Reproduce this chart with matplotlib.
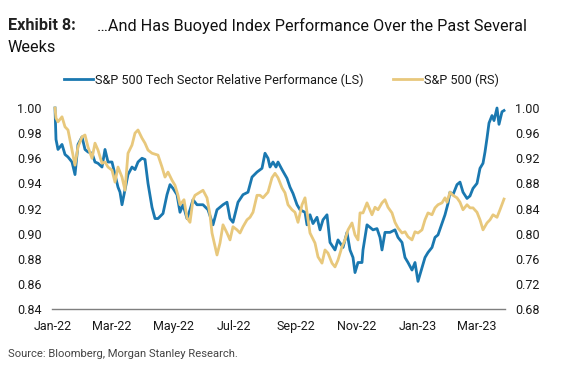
import matplotlib
matplotlib.use("Agg")
import matplotlib.pyplot as plt
import matplotlib.dates as mdates
from matplotlib.lines import Line2D
import pandas as pd

plt.rcParams['font.family'] = ['Roboto', 'DejaVu Sans']

base_date = "2022-01-01"

tech_days = [2, 3, 5, 9, 12, 15, 19, 22, 25, 29,
             32, 35, 39, 42, 45, 49, 52, 55, 59, 62,
             65, 67, 69, 72, 75, 79, 82, 85, 89, 92,
             95, 99, 102, 105, 110, 114, 117, 120, 124, 127,
             130, 134, 137, 140, 144, 150, 155, 160, 164, 170,
             174, 177, 180, 185, 190, 195, 199, 204, 209, 212,
             215, 217, 220, 223, 225, 229, 234, 237, 240, 244,
             247, 252, 254, 257, 260, 264, 267, 270, 274, 277,
             282, 285, 290, 294, 297, 300, 302, 305, 309, 310,
             314, 317, 320, 324, 327, 329, 332, 337, 342, 345,
             349, 352, 355, 359, 362, 365, 369, 372, 375, 379,
             382, 385, 389, 392, 395, 397, 400, 404, 407, 410,
             414, 417, 420, 424, 427, 430, 432, 434, 436, 439,
             441, 444, 446, 449, 451]
tech_rel = [1.000, 0.975, 0.967, 0.971, 0.963, 0.961, 0.957, 0.947, 0.971, 0.977,
            0.967, 0.965, 0.964, 0.957, 0.956, 0.953, 0.967, 0.957, 0.957, 0.947,
            0.937, 0.933, 0.923, 0.935, 0.947, 0.953, 0.951, 0.957, 0.960, 0.959,
            0.940, 0.921, 0.912, 0.912, 0.916, 0.931, 0.939, 0.936, 0.931, 0.917,
            0.923, 0.912, 0.919, 0.927, 0.923, 0.923, 0.919, 0.907, 0.919, 0.923,
            0.925, 0.912, 0.909, 0.925, 0.931, 0.933, 0.945, 0.949, 0.952, 0.964,
            0.960, 0.953, 0.957, 0.953, 0.957, 0.951, 0.944, 0.937, 0.932, 0.923,
            0.919, 0.917, 0.907, 0.915, 0.908, 0.913, 0.903, 0.911, 0.915, 0.893,
            0.887, 0.895, 0.889, 0.901, 0.887, 0.881, 0.869, 0.877, 0.877, 0.887,
            0.907, 0.905, 0.903, 0.904, 0.897, 0.887, 0.901, 0.901, 0.903, 0.897,
            0.893, 0.881, 0.877, 0.871, 0.877, 0.862, 0.873, 0.881, 0.885, 0.889,
            0.897, 0.899, 0.908, 0.915, 0.924, 0.933, 0.931, 0.939, 0.941, 0.933,
            0.928, 0.930, 0.936, 0.940, 0.952, 0.956, 0.965, 0.976, 0.988, 0.994,
            0.990, 1.000, 0.987, 0.997, 0.998]

spx_days = [2, 3, 5, 9, 12, 15, 19, 22, 25, 29,
            32, 35, 39, 42, 45, 49, 52, 55, 59, 62,
            65, 69, 72, 75, 79, 82, 85, 89, 92, 95,
            99, 105, 109, 112, 115, 119, 122, 125, 127, 131,
            134, 137, 140, 142, 147, 150, 154, 157, 159, 164,
            167, 170, 174, 177, 180, 184, 187, 190, 194, 197,
            200, 204, 207, 210, 215, 219, 222, 225, 229, 232,
            235, 239, 242, 245, 249, 252, 254, 257, 262, 265,
            269, 272, 275, 279, 282, 285, 289, 292, 295, 299,
            302, 305, 307, 310, 314, 319, 322, 325, 329, 332,
            335, 339, 342, 345, 349, 352, 355, 359, 362, 365,
            369, 372, 375, 379, 382, 385, 389, 392, 394, 397,
            400, 404, 407, 410, 414, 417, 420, 424, 427, 430,
            434, 437, 440, 444, 447, 451]
spx_rel = [1.000, 0.984, 0.978, 0.986, 0.970, 0.965, 0.933, 0.909, 0.938, 0.954,
           0.957, 0.938, 0.920, 0.944, 0.933, 0.912, 0.914, 0.906, 0.901, 0.882,
           0.906, 0.890, 0.869, 0.928, 0.941, 0.960, 0.965, 0.952, 0.944, 0.933,
           0.928, 0.925, 0.906, 0.890, 0.898, 0.885, 0.877, 0.861, 0.846, 0.854,
           0.825, 0.818, 0.854, 0.861, 0.866, 0.869, 0.857, 0.830, 0.801, 0.766,
           0.785, 0.814, 0.801, 0.790, 0.811, 0.806, 0.801, 0.811, 0.822, 0.826,
           0.834, 0.861, 0.861, 0.857, 0.866, 0.889, 0.896, 0.889, 0.873, 0.865,
           0.846, 0.838, 0.834, 0.818, 0.846, 0.857, 0.834, 0.801, 0.785, 0.763,
           0.753, 0.774, 0.769, 0.753, 0.747, 0.758, 0.779, 0.790, 0.806, 0.817,
           0.798, 0.790, 0.833, 0.833, 0.849, 0.830, 0.842, 0.838, 0.849, 0.854,
           0.842, 0.833, 0.818, 0.809, 0.801, 0.803, 0.795, 0.790, 0.803, 0.801,
           0.806, 0.822, 0.833, 0.830, 0.841, 0.846, 0.849, 0.857, 0.850, 0.866,
           0.861, 0.857, 0.850, 0.838, 0.846, 0.841, 0.841, 0.834, 0.822, 0.806,
           0.817, 0.822, 0.830, 0.826, 0.838, 0.855]

left_ticks = [0.84, 0.86, 0.88, 0.90, 0.92, 0.94, 0.96, 0.98, 1.00]
right_ticks = [0.68, 0.72, 0.76, 0.80, 0.84, 0.88, 0.92, 0.96, 1.00]
x_tick_dates = ["2022-01-01", "2022-03-01", "2022-05-01", "2022-07-01",
                "2022-09-01", "2022-11-01", "2023-01-01", "2023-03-01"]

label_tech = "S&P 500 Tech Sector Relative Performance (LS)"
label_spx = "S&P 500 (RS)"
title_bold = "Exhibit 8:"
title_rest = "\u2026And Has Buoyed Index Performance Over the Past Several"
title_line2 = "Weeks"
source_text = "Source: Bloomberg, Morgan Stanley Research."

BLUE = "#1a78b0"
GOLD = "#e8c87c"
TXT = "#1a1a1a"
TICK_FS = 9.0

b0 = pd.Timestamp(base_date)
tech_dates = b0 + pd.to_timedelta(tech_days, unit="D")
spx_dates = b0 + pd.to_timedelta(spx_days, unit="D")

fig = plt.figure(figsize=(5.64, 3.76), dpi=100)
ax = fig.add_axes([52 / 564, 1 - 309 / 376, (505 - 52) / 564, (309 - 108) / 376])
ax2 = ax.twinx()

ax.plot(tech_dates, tech_rel, color=BLUE, lw=2.0, solid_joinstyle='round', clip_on=False, zorder=3)
ax2.plot(spx_dates, spx_rel, color=GOLD, lw=2.0, solid_joinstyle='round', clip_on=False, zorder=3)

ax.set_ylim(0.84, 1.00)
ax2.set_ylim(0.68, 1.00)
ax.set_yticks(left_ticks)
ax2.set_yticks(right_ticks)
ax.set_yticklabels([f"{v:.2f}" for v in left_ticks])
ax2.set_yticklabels([f"{v:.2f}" for v in right_ticks])

ax.set_xlim(b0 - pd.Timedelta(days=1), b0 + pd.Timedelta(days=452))
ax.set_xticks(pd.to_datetime(x_tick_dates))
ax.xaxis.set_major_formatter(mdates.DateFormatter("%b-%y"))

for a in (ax, ax2):
    for s in ("top", "left", "right", "bottom"):
        a.spines[s].set_visible(False)
    a.patch.set_visible(False)
ax.spines["bottom"].set_visible(True)
ax.spines["bottom"].set_color("#7f7f7f")
ax.spines["bottom"].set_linewidth(1.0)

ax.tick_params(axis="x", length=0, pad=8.0, labelsize=TICK_FS, labelcolor=TXT)
ax.tick_params(axis="y", length=0, pad=7.5, labelsize=TICK_FS, labelcolor=TXT)
ax2.tick_params(axis="y", length=0, pad=7.5, labelsize=TICK_FS, labelcolor=TXT)

# Title
TITLE_FS = 11.7
fig.text(8 / 564, 1 - 30.5 / 376, title_bold, fontsize=TITLE_FS, fontweight="bold",
         color="#222222", va="baseline", ha="left")
fig.text(97 / 564, 1 - 30.5 / 376, title_rest, fontsize=TITLE_FS, color="#111111",
         va="baseline", ha="left")
fig.text(8 / 564, 1 - 51.5 / 376, title_line2, fontsize=TITLE_FS, color="#111111",
         va="baseline", ha="left")

# Legend
handles = [Line2D([], [], color=BLUE, lw=2.0), Line2D([], [], color=GOLD, lw=2.0)]
fig.legend(handles, [label_tech, label_spx], loc="center",
           bbox_to_anchor=(281.5 / 564, 1 - 80 / 376), ncol=2, frameon=False,
           fontsize=9.1, handlelength=2.3, handletextpad=0.15, columnspacing=2.3,
           labelcolor=TXT, borderpad=0)

fig.text(8 / 564, 1 - 354 / 376, source_text, fontsize=8.1, color="#444444",
         va="center", ha="left")

fig.savefig("out.png", dpi=100)
